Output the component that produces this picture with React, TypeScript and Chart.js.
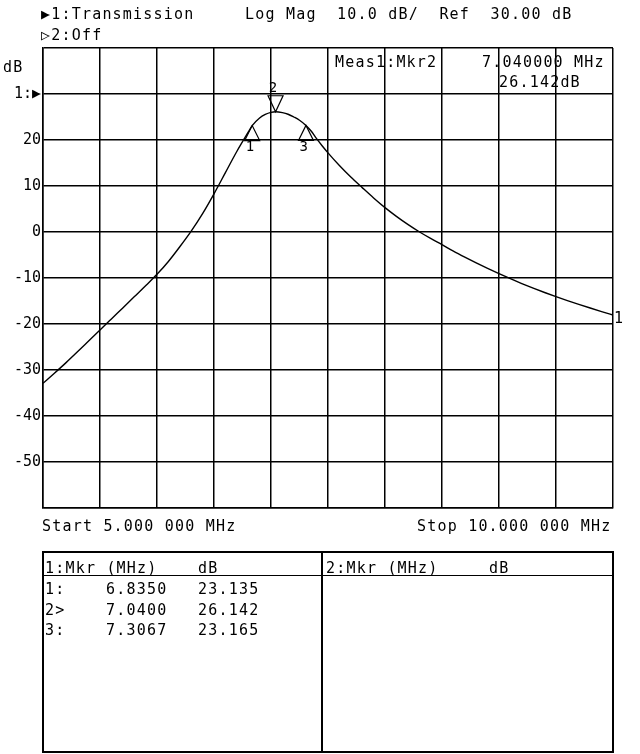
import React, { useEffect, useRef } from "react";
import { Chart, registerables } from "chart.js";

Chart.register(...registerables);

// Sweep settings
const startMHz = 5.0;
const stopMHz = 10.0;
const refDb = 30.0;
const scaleDbPerDiv = 10.0;
const yMinDb = -60;
const yMaxDb = 40;

// Trace 1: Transmission (Log Mag), frequency in MHz and magnitude in dB
const freqMHz = [
  5.0, 5.1, 5.2, 5.3, 5.4, 5.5, 5.6, 5.7, 5.8, 5.9,
  6.0, 6.1, 6.2, 6.3, 6.4, 6.5, 6.6, 6.7, 6.8,
  6.835, 6.9, 6.95, 7.0, 7.04, 7.1, 7.15, 7.2, 7.25, 7.3067,
  7.35, 7.4, 7.45, 7.5,
  7.6, 7.7, 7.8, 7.9, 8.0, 8.1, 8.2, 8.3, 8.4, 8.5,
  8.6, 8.7, 8.8, 8.9, 9.0, 9.1, 9.2, 9.3, 9.4, 9.5,
  9.6, 9.7, 9.8, 9.9, 10.0,
];
const magDb = [
  -32.9, -30.7, -28.45, -26.1, -23.7, -21.3, -18.9, -16.5, -14.1, -11.7,
  -9.2, -6.4, -3.2, 0.2, 4.0, 8.3, 12.9, 17.5, 21.7,
  23.135, 24.8, 25.55, 26.0, 26.142, 25.95, 25.6, 25.0, 24.3, 23.165,
  22.0, 20.3, 18.7, 17.2,
  14.45, 11.95, 9.65, 7.4, 5.3, 3.4, 1.65, 0.05, -1.4, -2.75,
  -4.15, -5.45, -6.7, -7.9, -9.05, -10.15, -11.2, -12.2, -13.15, -14.05,
  -14.9, -15.72, -16.52, -17.3, -18.06,
];

// Markers
const markerIds = ["1", "2", "3"];
const markerFreqMHz = [6.835, 7.04, 7.3067];
const markerDb = [23.135, 26.142, 23.165];
const activeMarker = 1; // index of marker 2

const MONO = '"DejaVu Sans Mono", monospace';

const fmtMHz = (v: number) => {
  const s = v.toFixed(6);
  const [i, f] = s.split(".");
  return `${i}.${f.slice(0, 3)} ${f.slice(3)} MHz`;
};

function T({ x, b, s }: { x: number; b: number; s: string }) {
  return (
    <span
      style={{
        position: "absolute",
        left: x,
        top: b - 12.7,
        font: `15px ${MONO}`,
        lineHeight: "15px",
        letterSpacing: "1.2px",
        whiteSpace: "pre",
        color: "#000",
      }}
    >
      {s}
    </span>
  );
}

function Line({ x, y, w, h }: { x: number; y: number; w: number; h: number }) {
  return <div style={{ position: "absolute", left: x, top: y, width: w, height: h, background: "#000" }} />;
}

const markerPlugin = {
  id: "vnaMarkers",
  afterDatasetsDraw(chart: any) {
    const { ctx, scales } = chart;
    const xs = scales.x;
    const ys = scales.y;
    ctx.save();
    ctx.strokeStyle = "#000";
    ctx.fillStyle = "#000";
    ctx.lineWidth = 1.2;
    ctx.font = `14px ${MONO}`;
    ctx.textAlign = "center";
    ctx.textBaseline = "middle";
    markerFreqMHz.forEach((f, i) => {
      const px = xs.getPixelForValue(f);
      const py = ys.getPixelForValue(markerDb[i]);
      ctx.beginPath();
      if (i === activeMarker) {
        ctx.moveTo(px, py);
        ctx.lineTo(px - 7.5, py - 16);
        ctx.lineTo(px + 7.5, py - 16);
        ctx.closePath();
        ctx.stroke();
        ctx.fillText(markerIds[i], px - 2.5, py - 23);
      } else {
        ctx.moveTo(px - 7.5, py + 15);
        ctx.lineTo(px, py);
        ctx.lineTo(px + 7.5, py + 15);
        ctx.closePath();
        ctx.stroke();
        ctx.fillText(markerIds[i], px - 2.3, py + 22);
      }
    });
    // trace number at the end of the trace
    const lastX = xs.getPixelForValue(freqMHz[freqMHz.length - 1]);
    const lastY = ys.getPixelForValue(magDb[magDb.length - 1]);
    ctx.font = `15px ${MONO}`;
    ctx.textAlign = "left";
    ctx.fillText("1", lastX + 1, lastY + 4);
    ctx.restore();
  },
};

export default function App() {
  const ref = useRef<HTMLCanvasElement | null>(null);

  useEffect(() => {
    if (!ref.current) return;
    const chart = new Chart(ref.current, {
      type: "line",
      data: {
        datasets: [
          {
            label: "1:Transmission",
            data: freqMHz.map((f, i) => ({ x: f, y: magDb[i] })),
            borderColor: "#000",
            borderWidth: 1.4,
            pointRadius: 0,
            fill: false,
            cubicInterpolationMode: "monotone",
          },
        ],
      },
      options: {
        animation: false,
        responsive: false,
        maintainAspectRatio: false,
        layout: { padding: { left: 0, top: 48, right: 27, bottom: 32 } },
        plugins: { legend: { display: false }, tooltip: { enabled: false } },
        scales: {
          x: {
            type: "linear",
            min: startMHz,
            max: stopMHz,
            ticks: { display: false, stepSize: (stopMHz - startMHz) / 10 },
            grid: { color: "#000", lineWidth: 1.5, drawTicks: false },
            border: { display: true, color: "#000", width: 1.5 },
            afterFit: (s: any) => {
              s.height = 0;
            },
          },
          y: {
            type: "linear",
            min: yMinDb,
            max: yMaxDb,
            ticks: {
              stepSize: scaleDbPerDiv,
              autoSkip: false,
              padding: 2,
              color: "#000",
              font: { family: MONO, size: 15 },
              callback: (v: any) => {
                const n = Number(v);
                if (n === yMaxDb || n === yMinDb) return "";
                if (n === refDb) return "1:\u25B6";
                return String(n);
              },
            },
            grid: { color: "#000", lineWidth: 1.5, drawTicks: false },
            border: { display: true, color: "#000", width: 1.5 },
            afterFit: (s: any) => {
              s.width = 43;
            },
          },
        },
      },
      plugins: [markerPlugin],
    } as any);
    return () => chart.destroy();
  }, []);

  const m = activeMarker;

  return (
    <div style={{ position: "absolute", left: 0, top: 0, width: 640, height: 754, background: "#fff", overflow: "hidden" }}>
      <canvas ref={ref} width={640} height={540} style={{ position: "absolute", left: 0, top: 0, width: 640, height: 540 }} />

      <T x={41} b={20} s={"\u25B61:Transmission"} />
      <T x={245} b={20} s={`Log Mag  ${scaleDbPerDiv.toFixed(1)} dB/  Ref  ${refDb.toFixed(2)} dB`} />
      <T x={41} b={41} s={"\u25B72:Off"} />
      <T x={3} b={73} s={"dB"} />

      <T x={335} b={68} s={`Meas1:Mkr${markerIds[m]}`} />
      <T x={482} b={68} s={`${markerFreqMHz[m].toFixed(6)} MHz`} />
      <T x={499} b={88} s={`${markerDb[m].toFixed(3)}dB`} />

      <T x={42} b={532} s={`Start ${fmtMHz(startMHz)}`} />
      <T x={417} b={532} s={`Stop ${fmtMHz(stopMHz)}`} />

      {/* marker table */}
      <div
        style={{
          position: "absolute",
          left: 42,
          top: 551,
          width: 572,
          height: 202,
          border: "2px solid #000",
          boxSizing: "border-box",
        }}
      />
      <Line x={321} y={551} w={2} h={202} />
      <Line x={42} y={574.5} w={572} h={1.5} />

      <T x={45} b={574} s={"1:Mkr (MHz)"} />
      <T x={198} b={574} s={"dB"} />
      <T x={326} b={574} s={"2:Mkr (MHz)"} />
      <T x={489} b={574} s={"dB"} />

      {markerIds.map((id, i) => {
        const b = 595 + i * 20.3;
        return (
          <React.Fragment key={id}>
            <T x={45} b={b} s={i === m ? `${id}>` : `${id}:`} />
            <T x={106} b={b} s={markerFreqMHz[i].toFixed(4)} />
            <T x={198} b={b} s={markerDb[i].toFixed(3)} />
          </React.Fragment>
        );
      })}
    </div>
  );
}
